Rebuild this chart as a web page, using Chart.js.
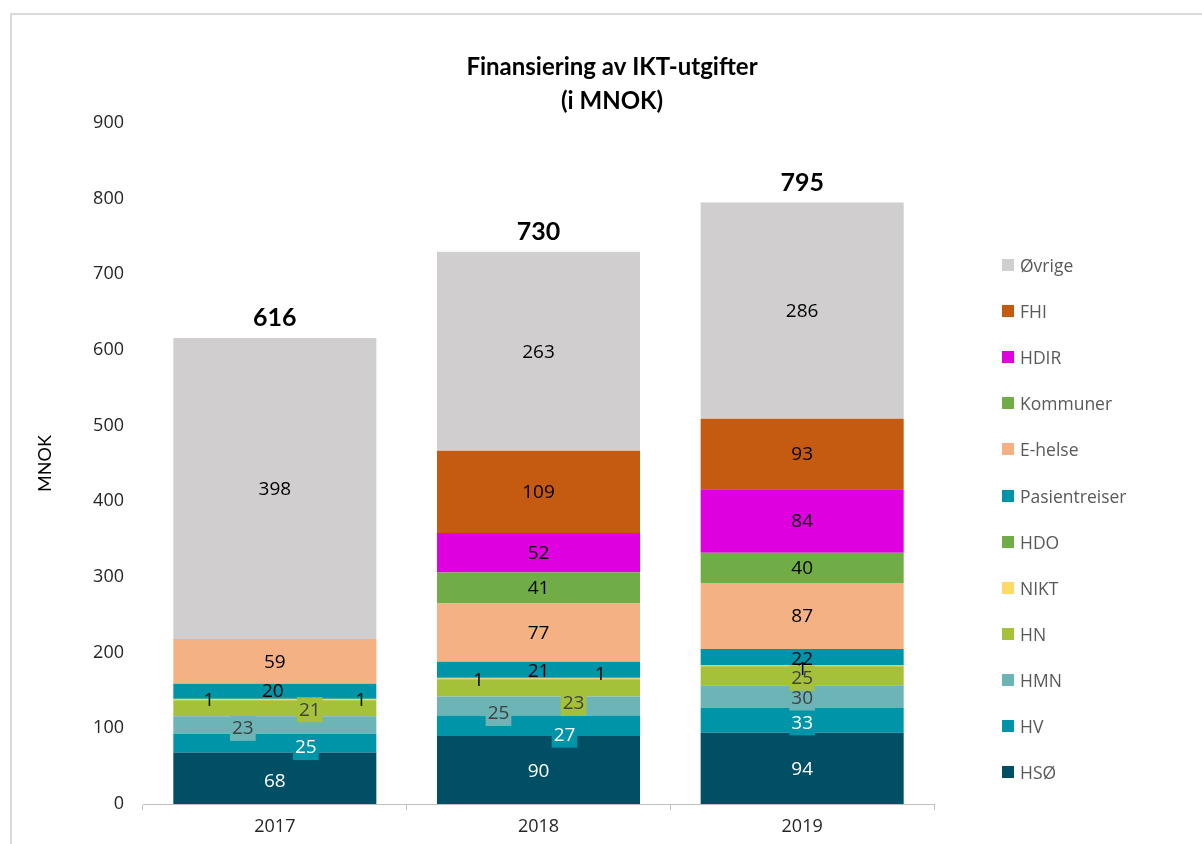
<!DOCTYPE html>
<html lang="no">
<head>
<meta charset="utf-8">
<title>Finansiering av IKT-utgifter</title>
<script src="https://cdn.jsdelivr.net/npm/chart.js@4.4.1/dist/chart.umd.min.js"></script>
<style>
  html, body { margin: 0; padding: 0; background: #fff; }
  #wrap { position: relative; width: 1202px; height: 844px; overflow: hidden; }
  #frame {
    position: absolute; left: 10px; top: 13px; right: -10px; bottom: -10px;
    border-left: 2px solid #d9d9d9; border-top: 2px solid #d9d9d9;
  }
  canvas { position: absolute; left: 0; top: 0; }
  #legend { position: absolute; left: 1002px; top: 0; font-family: 'Open Sans', sans-serif; }
  .item { position: absolute; left: 0; height: 20px; display: flex; align-items: center;
          white-space: nowrap; font-size: 17.5px; color: #595959; }
  .swatch { width: 12px; height: 12px; margin-right: 6px; }
</style>
</head>
<body>
<div id="wrap">
  <div id="frame"></div>
  <canvas id="chart" width="1202" height="844"></canvas>
  <div id="legend"></div>
</div>
<script>
// ============ Data ============
const years = ['2017', '2018', '2019'];

// stack order, bottom to top
const seriesNames = ['HSØ', 'HV', 'HMN', 'HN', 'NIKT', 'HDO', 'Pasientreiser',
                     'E-helse', 'Kommuner', 'HDIR', 'FHI', 'Øvrige'];

const hso           = [68, 90, 94];
const hv            = [25, 27, 33];
const hmn           = [23, 25, 30];
const hn            = [21, 23, 25];
const nikt          = [1, 1, 1];
const hdo           = [1, 1, 0];
const pasientreiser = [20, 21, 22];
const eHelse        = [59, 77, 87];
const kommuner      = [0, 41, 40];
const hdir          = [0, 52, 84];
const fhi           = [0, 109, 93];
const ovrige        = [398, 263, 286];

const yTicks = [0, 100, 200, 300, 400, 500, 600, 700, 800, 900];

const seriesValues = [hso, hv, hmn, hn, nikt, hdo, pasientreiser,
                      eHelse, kommuner, hdir, fhi, ovrige];

// ============ Styles ============
const seriesColors = ['#004f64', '#0094a8', '#6cb4b6', '#a5c13a', '#ffd966', '#70ad47',
                      '#0094a8', '#f4b183', '#70ad47', '#df00df', '#c55a11', '#d0cece'];

// label text colour, optional background box, and per-year nudge [dx, dy]
const labelStyle = {
  'HSØ':  { color: '#ffffff', nudge: [[0, 2], [0, 1], [0, 0]] },
  'HV':   { color: '#ffffff', box: true, nudge: [[31, 4], [26, 9], [0, 2]] },
  'HMN':  { color: '#404040', box: true, nudge: [[-32, 3], [-40, 7], [0, 1]] },
  'HN':   { color: '#404040', box: true, nudge: [[35, 1], [35, 15], [0, 2]] },
  'NIKT': { color: '#000000', nudge: [[-66, 0], [-60, 1], [0, 3]] },
  'HDO':  { color: '#000000', nudge: [[86, 0], [62, -4], [0, 0]] },
  'Pasientreiser': { color: '#000000', nudge: [[-2, -1], [0, 1], [0, 1]] }
};

const FONT = "'Open Sans', sans-serif";
Chart.defaults.font.family = FONT;

// ============ Plugins ============
const segmentLabels = {
  id: 'segmentLabels',
  afterDatasetsDraw(chart) {
    const ctx = chart.ctx;
    ctx.save();
    ctx.font = `19px ${FONT}`;
    ctx.textAlign = 'center';
    ctx.textBaseline = 'middle';
    chart.data.datasets.forEach((ds, di) => {
      const meta = chart.getDatasetMeta(di);
      const style = labelStyle[ds.label] || { color: '#000000' };
      ds.data.forEach((v, i) => {
        if (!v) return;
        const bar = meta.data[i];
        const nudge = style.nudge ? style.nudge[i] : [0, 0];
        const x = bar.x + nudge[0];
        const y = (bar.y + bar.base) / 2 + nudge[1];
        const text = String(v);
        if (style.box) {
          const w = ctx.measureText(text).width + 4;
          ctx.fillStyle = ds.backgroundColor;
          ctx.fillRect(x - w / 2, y - 12, w, 25);
        }
        ctx.fillStyle = style.color;
        ctx.fillText(text, x, y + 1);
      });
    });

    // totals above each column
    const last = chart.getDatasetMeta(chart.data.datasets.length - 1);
    ctx.font = `bold 25px Lato, ${FONT}`;
    ctx.fillStyle = '#000000';
    years.forEach((_, i) => {
      const total = seriesValues.reduce((s, arr) => s + arr[i], 0);
      const bar = last.data[i];
      ctx.fillText(String(total), bar.x, chart.scales.y.getPixelForValue(total) - 20);
    });
    ctx.restore();
  },
  afterDraw(chart) {
    const ctx = chart.ctx;
    ctx.save();
    ctx.font = `bold 24px 'Liberation Sans Narrow', Lato, sans-serif`;
    ctx.fillStyle = '#000000';
    ctx.textAlign = 'center';
    ctx.textBaseline = 'middle';
    ctx.fillText('Finansiering av IKT-utgifter', 612, 67);
    ctx.fillText('(i MNOK)', 612, 101);
    ctx.restore();
  }
};

// ============ Chart ============
const chart = new Chart(document.getElementById('chart'), {
  type: 'bar',
  data: {
    labels: years,
    datasets: seriesNames.map((name, i) => ({
      label: name,
      data: seriesValues[i],
      backgroundColor: seriesColors[i],
      borderWidth: 0,
      categoryPercentage: 1,
      barPercentage: 0.77
    }))
  },
  options: {
    responsive: false,
    animation: false,
    layout: { padding: { left: 30, right: 268, top: 123, bottom: 0 } },
    plugins: {
      legend: { display: false },
      tooltip: { enabled: false },
      title: { display: false }
    },
    scales: {
      x: {
        stacked: true,
        afterFit: (s) => { s.height = 40; },
        border: { color: '#bfbfbf', width: 1 },
        grid: { display: true, drawOnChartArea: false, drawTicks: true, tickLength: 6, color: '#bfbfbf', offset: true },
        ticks: { color: '#262626', font: { size: 18 }, padding: 6 }
      },
      y: {
        stacked: true,
        min: 0,
        max: 900,
        afterFit: (s) => { s.width = 113; },
        afterBuildTicks: (s) => { s.ticks = yTicks.map(v => ({ value: v })); },
        border: { display: false },
        grid: { display: false, drawTicks: false },
        ticks: { color: '#262626', font: { size: 18 }, padding: 19 },
        title: {
          display: true,
          text: 'MNOK',
          color: '#000000',
          font: { family: "Lato, sans-serif", size: 18 },
          padding: { top: 4, bottom: 0 }
        }
      }
    }
  },
  plugins: [segmentLabels]
});

// ============ Legend ============
const legend = document.getElementById('legend');
seriesNames.slice().reverse().forEach((name, k) => {
  const idx = seriesNames.indexOf(name);
  const item = document.createElement('div');
  item.className = 'item';
  item.style.top = (265 + k * 46.1 - 10) + 'px';
  item.innerHTML = `<span class="swatch" style="background:${seriesColors[idx]}"></span>${name}`;
  legend.appendChild(item);
});
</script>
</body>
</html>
